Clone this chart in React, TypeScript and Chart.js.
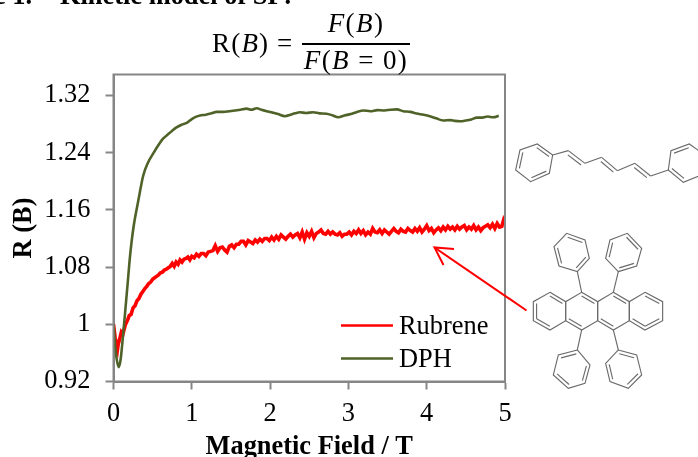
import React, { useEffect, useRef } from "react";
import { Chart, registerables } from "chart.js";

Chart.register(...registerables);

const FONT = '"Liberation Serif", serif';
const RED = "#ff0000";
const GREEN = "#4f6228";
const AXIS = "#868686";
const TEXT_SIZE = 26.4;

const yTicks = [0.92, 1, 1.08, 1.16, 1.24, 1.32];
const xTicks = [0, 1, 2, 3, 4, 5];

const rubreneField = [0, 0.02, 0.04, 0.05, 0.06, 0.08, 0.1, 0.12, 0.15, 0.18, 0.2, 0.225, 0.25, 0.275, 0.3, 0.325, 0.35, 0.375, 0.4, 0.425, 0.45, 0.475, 0.5, 0.525, 0.55, 0.575, 0.6, 0.625, 0.65, 0.675, 0.7, 0.725, 0.75, 0.775, 0.8, 0.825, 0.85, 0.875, 0.9, 0.925, 0.95, 0.975, 1, 1.03, 1.06, 1.09, 1.12, 1.15, 1.18, 1.21, 1.24, 1.27, 1.3, 1.33, 1.36, 1.39, 1.42, 1.45, 1.48, 1.51, 1.54, 1.57, 1.6, 1.63, 1.66, 1.69, 1.72, 1.75, 1.78, 1.81, 1.84, 1.87, 1.9, 1.93, 1.96, 1.99, 2.02, 2.05, 2.08, 2.11, 2.14, 2.17, 2.2, 2.23, 2.26, 2.29, 2.32, 2.35, 2.38, 2.41, 2.44, 2.47, 2.5, 2.53, 2.56, 2.59, 2.62, 2.65, 2.68, 2.71, 2.74, 2.77, 2.8, 2.83, 2.86, 2.89, 2.92, 2.95, 2.98, 3.01, 3.04, 3.07, 3.1, 3.13, 3.16, 3.19, 3.22, 3.25, 3.28, 3.31, 3.34, 3.37, 3.4, 3.43, 3.46, 3.49, 3.52, 3.55, 3.58, 3.61, 3.64, 3.67, 3.7, 3.73, 3.76, 3.79, 3.82, 3.85, 3.88, 3.91, 3.94, 3.97, 4, 4.03, 4.06, 4.09, 4.12, 4.15, 4.18, 4.21, 4.24, 4.27, 4.3, 4.33, 4.36, 4.39, 4.42, 4.45, 4.48, 4.51, 4.54, 4.57, 4.6, 4.63, 4.66, 4.69, 4.72, 4.75, 4.78, 4.81, 4.84, 4.87, 4.9, 4.93, 4.96, 4.98, 5];
const rubreneR = [
  1, 0.982, 0.968, 0.964, 0.972, 0.98, 0.989, 0.986, 0.999, 1.006,
  1.012, 1.014, 1.023, 1.026, 1.033, 1.036, 1.042, 1.046, 1.05, 1.053,
  1.057, 1.059, 1.063, 1.065, 1.067, 1.069, 1.072, 1.073, 1.076, 1.077,
  1.079, 1.081, 1.085, 1.081, 1.087, 1.084, 1.09, 1.087, 1.091, 1.092,
  1.094, 1.09, 1.095,
  1.093, 1.098, 1.095, 1.099, 1.099, 1.096, 1.101, 1.102, 1.103, 1.11,
  1.102, 1.107, 1.108, 1.104, 1.101, 1.109, 1.111, 1.107, 1.112, 1.112,
  1.116, 1.116, 1.111, 1.117, 1.115, 1.113, 1.118, 1.115, 1.119, 1.116,
  1.12, 1.12, 1.117, 1.122, 1.118, 1.123, 1.119, 1.125, 1.122, 1.119,
  1.123, 1.126, 1.122, 1.125, 1.127, 1.121, 1.129, 1.119, 1.128, 1.123,
  1.13, 1.121, 1.127, 1.129, 1.132, 1.127, 1.126, 1.13, 1.126, 1.129,
  1.126, 1.125, 1.128, 1.123, 1.126, 1.126, 1.129, 1.125, 1.13, 1.127,
  1.132, 1.127, 1.131, 1.125, 1.129, 1.126, 1.134, 1.129, 1.128, 1.132,
  1.127, 1.132, 1.129, 1.126, 1.13, 1.134, 1.13, 1.128, 1.133, 1.13,
  1.129, 1.134, 1.131, 1.129, 1.134, 1.13, 1.135, 1.129, 1.133, 1.138,
  1.131, 1.134, 1.128, 1.132, 1.135, 1.131, 1.136, 1.132, 1.137, 1.133,
  1.136, 1.132, 1.137, 1.133, 1.136, 1.138, 1.132, 1.136, 1.133, 1.138,
  1.132, 1.136, 1.131, 1.135, 1.137, 1.139, 1.135, 1.14, 1.134, 1.141,
  1.136, 1.137, 1.145, 1.139,
];

const dphField = [0, 0.02, 0.04, 0.066, 0.09, 0.12, 0.147, 0.18, 0.21, 0.253, 0.317, 0.38, 0.44, 0.508, 0.57, 0.636, 0.69, 0.743, 0.8, 0.87, 0.935, 1, 1.05, 1.105, 1.18, 1.25, 1.318, 1.4, 1.48, 1.55, 1.62, 1.7, 1.76, 1.83, 1.89, 1.956, 2.03, 2.1, 2.19, 2.26, 2.32, 2.38, 2.46, 2.55, 2.63, 2.72, 2.8, 2.87, 2.95, 3.03, 3.11, 3.19, 3.28, 3.37, 3.46, 3.54, 3.62, 3.7, 3.79, 3.87, 3.96, 4.04, 4.12, 4.21, 4.3, 4.36, 4.425, 4.5, 4.57, 4.64, 4.71, 4.78, 4.85, 4.92];
const dphR = [1, 0.972, 0.952, 0.94, 0.95, 0.982, 1.015, 1.056, 1.094, 1.134, 1.173, 1.208, 1.226, 1.239, 1.25, 1.26, 1.265, 1.27, 1.275, 1.279, 1.2816, 1.287, 1.29, 1.292, 1.293, 1.295, 1.297, 1.297, 1.298, 1.299, 1.3, 1.3016, 1.3, 1.3022, 1.3, 1.298, 1.296, 1.294, 1.291, 1.293, 1.295, 1.2965, 1.2955, 1.2965, 1.295, 1.2945, 1.292, 1.2895, 1.292, 1.294, 1.297, 1.299, 1.298, 1.2995, 1.299, 1.3, 1.3005, 1.298, 1.297, 1.2947, 1.293, 1.291, 1.288, 1.285, 1.2855, 1.2845, 1.284, 1.285, 1.2865, 1.289, 1.289, 1.2905, 1.2895, 1.2915];

const toPoints = (xs: number[], ys: number[]) => xs.map((x, i) => ({ x, y: ys[i] }));

const frameAndLegend = {
  id: "frameAndLegend",
  afterDatasetsDraw(chart: any) {
    const { ctx, chartArea: a } = chart;
    ctx.save();
    ctx.strokeStyle = AXIS;
    ctx.lineWidth = 2;
    ctx.strokeRect(a.left, a.top, a.right - a.left, a.bottom - a.top);
    const rows = [{ d: chart.data.datasets[0], y: 325.5 }, { d: chart.data.datasets[1], y: 358.5 }];
    ctx.font = `${TEXT_SIZE}px ${FONT}`;
    ctx.textBaseline = "middle";
    for (const r of rows) {
      ctx.strokeStyle = r.d.borderColor;
      ctx.lineWidth = 2.5;
      ctx.beginPath();
      ctx.moveTo(341, r.y);
      ctx.lineTo(393, r.y);
      ctx.stroke();
      ctx.fillStyle = "#000";
      ctx.fillText(r.d.label, 399, r.y + 2);
    }
    ctx.restore();
  },
};

type P = [number, number];
const ring = (pts: P[], doubles: number[], key: string) => {
  const cx = pts.reduce((s, p) => s + p[0], 0) / pts.length;
  const cy = pts.reduce((s, p) => s + p[1], 0) / pts.length;
  return (
    <g key={key}>
      <polygon points={pts.map((p) => p.join(",")).join(" ")} />
      {doubles.map((i) => {
        const a = pts[i];
        const b = pts[(i + 1) % pts.length];
        const k = 0.8;
        const ia: P = [cx + (a[0] - cx) * k, cy + (a[1] - cy) * k];
        const ib: P = [cx + (b[0] - cx) * k, cy + (b[1] - cy) * k];
        return <line key={i} x1={ia[0]} y1={ia[1]} x2={ib[0]} y2={ib[1]} />;
      })}
    </g>
  );
};

const bond = (a: P, b: P, dbl = false, key = "") => {
  const dx = b[0] - a[0];
  const dy = b[1] - a[1];
  const l = Math.hypot(dx, dy);
  const ox = (-dy / l) * 11;
  const oy = (dx / l) * 11;
  return (
    <g key={key || `${a}-${b}`}>
      <line x1={a[0]} y1={a[1]} x2={b[0]} y2={b[1]} />
      {dbl && <line x1={a[0] + ox + dx * 0.1} y1={a[1] + oy + dy * 0.1} x2={b[0] + ox - dx * 0.1} y2={b[1] + oy - dy * 0.1} />}
    </g>
  );
};

const Molecules = () => (
  <g transform="translate(500,120) scale(0.3333)" fill="none" stroke="#6a6a6a" strokeWidth={3.4}>
    {ring([[112, 72], [158, 105], [148, 160], [92, 185], [47, 150], [60, 90]], [0, 2, 4], "d1")}
    {ring([[505, 150], [513, 92], [568, 72], [615, 105], [605, 165], [550, 187]], [1, 3, 5], "d2")}
    {bond([158, 105], [205, 92])}
    {bond([205, 92], [255, 130], true)}
    {bond([255, 130], [305, 112])}
    {bond([305, 112], [352, 152], true)}
    {bond([352, 152], [405, 130])}
    {bond([405, 130], [452, 168], true)}
    {bond([452, 168], [505, 150])}
    {ring([[150, 517], [197, 545], [197, 602], [150, 630], [100, 602], [100, 545]], [0, 3, 4], "t1")}
    {ring([[245, 517], [293, 545], [293, 602], [245, 630], [197, 602], [197, 545]], [0, 3], "t2")}
    {ring([[340, 517], [388, 545], [388, 602], [340, 630], [293, 602], [293, 545]], [0, 3], "t3")}
    {ring([[435, 517], [488, 545], [488, 602], [435, 630], [388, 602], [388, 545]], [0, 2, 3], "t4")}
    {bond([245, 517], [232, 455])}
    {bond([340, 517], [355, 455])}
    {bond([245, 630], [232, 690])}
    {bond([340, 630], [355, 690])}
    {ring([[232, 455], [268, 415], [255, 360], [200, 340], [162, 380], [177, 438]], [0, 2, 4], "p1")}
    {ring([[355, 455], [410, 438], [425, 385], [382, 340], [330, 360], [317, 415]], [0, 2, 4], "p2")}
    {ring([[232, 690], [175, 705], [160, 765], [205, 805], [255, 790], [270, 735]], [0, 2, 4], "p3")}
    {ring([[355, 690], [410, 705], [425, 765], [385, 805], [330, 785], [317, 730]], [0, 2, 4], "p4")}
  </g>
);

const Overlay = () => (
  <svg width={698} height={457} style={{ position: "absolute", left: 0, top: 0, pointerEvents: "none" }}>
    <g fontFamily={FONT} fill="#000">
      <text x={-6} y={3.5} fontSize={26.4} fontWeight="bold">e 1.</text>
      <text x={60} y={3.5} fontSize={26.4} fontWeight="bold">Kinetic model of SF:</text>
      <text x={212} y={52} fontSize={27} letterSpacing={1.2}>R(<tspan fontStyle="italic">B</tspan>)</text>
      <text x={277} y={52} fontSize={27}>=</text>
      <text x={356} y={32} fontSize={27} letterSpacing={1.4} textAnchor="middle"><tspan fontStyle="italic">F</tspan>(<tspan fontStyle="italic">B</tspan>)</text>
      <text x={356} y={68.5} fontSize={27} letterSpacing={1.4} textAnchor="middle"><tspan fontStyle="italic">F</tspan>(<tspan fontStyle="italic">B</tspan> = 0)</text>
    </g>
    <line x1={302} y1={44} x2={410} y2={44} stroke="#000" strokeWidth={2} />
    <Molecules />
    <g stroke={RED} strokeWidth={2} fill="none">
      <line x1={434.5} y1={247.5} x2={526.5} y2={310.5} />
      <polyline points="454,249 434.5,247.5 443.5,265" />
    </g>
  </svg>
);

export default function App() {
  const ref = useRef<HTMLCanvasElement>(null);
  useEffect(() => {
    if (!ref.current) return;
    const chart = new Chart(ref.current, {
      type: "line",
      data: {
        datasets: [
          { label: "Rubrene", data: toPoints(rubreneField, rubreneR), borderColor: RED, backgroundColor: RED, borderWidth: 3.6, pointRadius: 0, tension: 0, order: 1 },
          { label: "DPH", data: toPoints(dphField, dphR), borderColor: GREEN, backgroundColor: GREEN, borderWidth: 2.6, pointRadius: 0, cubicInterpolationMode: "monotone", order: 0 },
        ],
      },
      options: {
        animation: false,
        responsive: false,
        layout: { padding: { left: 0, top: 74.5, right: 193, bottom: 0 } },
        plugins: { legend: { display: false }, tooltip: { enabled: false } },
        scales: {
          x: {
            type: "linear",
            min: 0,
            max: 5,
            afterBuildTicks: (s: any) => { s.ticks = xTicks.map((value) => ({ value })); },
            afterFit: (s: any) => { s.height = 75.5; },
            grid: { drawOnChartArea: false, drawTicks: true, tickLength: 8, tickColor: AXIS, tickWidth: 2 },
            border: { color: AXIS, width: 2 },
            ticks: { color: "#000", font: { family: FONT, size: TEXT_SIZE }, padding: 9, maxRotation: 0, callback: (v: any) => String(v) },
            title: { display: true, text: "Magnetic Field / T", color: "#000", font: { family: FONT, size: TEXT_SIZE, weight: "bold", lineHeight: 1 }, padding: { top: 0, bottom: -3 } },
          },
          y: {
            type: "linear",
            min: 0.92,
            max: 1.3493,
            afterBuildTicks: (s: any) => { s.ticks = yTicks.map((value) => ({ value })); },
            afterFit: (s: any) => { s.width = 113.5; },
            grid: { drawOnChartArea: false, drawTicks: true, tickLength: 8, tickColor: AXIS, tickWidth: 2 },
            border: { color: AXIS, width: 2 },
            ticks: { color: "#000", font: { family: FONT, size: TEXT_SIZE }, padding: 15, callback: (v: any) => String(Number(v)) },
            title: { display: true, text: "R (B)", color: "#000", font: { family: FONT, size: TEXT_SIZE, weight: "bold" }, padding: { top: 8, bottom: 0 } },
          },
        },
      },
      plugins: [frameAndLegend],
    } as any);
    return () => chart.destroy();
  }, []);
  return (
    <div style={{ position: "absolute", left: 0, top: 0, width: 698, height: 457, background: "#fff" }}>
      <canvas ref={ref} width={698} height={457} style={{ display: "block" }} />
      <Overlay />
    </div>
  );
}
